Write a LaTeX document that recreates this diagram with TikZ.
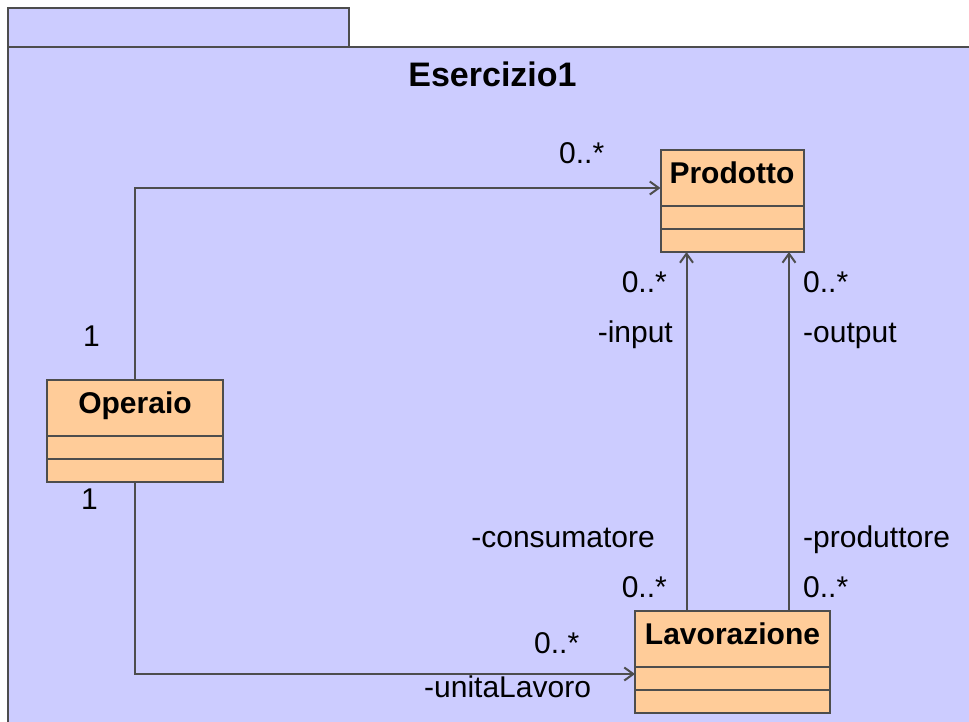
\documentclass[tikz,border=0pt]{standalone}
\usepackage{fontspec}
\setmainfont{Liberation Sans}
\usetikzlibrary{arrows.meta}
\definecolor{pkgfill}{HTML}{CCCCFF}
\definecolor{classfill}{HTML}{FFCC99}
\definecolor{linegray}{HTML}{4D4D4D}
\tikzstyle{package}=[draw=linegray,fill=pkgfill,line width=2pt]
\tikzstyle{umlclass}=[rectangle,draw=linegray,fill=classfill,line width=2pt,minimum height=102pt,inner sep=0pt,outer sep=0pt]
\tikzstyle{classname}=[font=\fontsize{30}{36}\selectfont\bfseries,inner sep=0pt,anchor=base]
\tikzstyle{compline}=[draw=linegray,line width=2pt]
\tikzstyle{assoc}=[draw=linegray,line width=2pt,-{Straight Barb[length=9pt,width=13pt]}]
\tikzstyle{lbl}=[font=\fontsize{30}{36}\selectfont,inner sep=0pt]

\begin{document}
\begin{tikzpicture}[x=1pt,y=-1pt]
    \clip (0,0) rectangle (969,721);
    % The package with its tab
    \path[package] (8,8) rectangle (349,47);
    \path[package] (8,47) rectangle (990,740);
    \node[classname,font=\fontsize{34}{40}\selectfont\bfseries] (title) at (492.5,86) {Esercizio1};
    % First we draw the classes
    \foreach \pos/\w/\name/\text in {{(732,201)/143/prodotto/Prodotto}, {(135,431)/176/operaio/Operaio}, {(732.5,662)/195/lavorazione/Lavorazione}}
    {
        \node[umlclass,minimum width=\w] (\name) at \pos {};
        \node[classname] (\name-title) at ([yshift=-33pt]\name.north) {\text};
        \draw[compline] ([yshift=-56pt]\name.north west) -- ([yshift=-56pt]\name.north east);
        \draw[compline] ([yshift=-79pt]\name.north west) -- ([yshift=-79pt]\name.north east);
    }
    % Then the associations
    \coordinate (inx) at (686.5,0);
    \coordinate (outx) at (789,0);
    \draw[assoc] (operaio.north) |- ([yshift=13pt]prodotto.west);
    \draw[assoc] (operaio.south) |- ([yshift=-12pt]lavorazione.west);
    \draw[assoc] (lavorazione.north -| inx) -- (prodotto.south -| inx);
    \draw[assoc] (lavorazione.north -| outx) -- (prodotto.south -| outx);
    % Role names and multiplicities
    \foreach \pos/\anc/\name/\text in {{(559,163)/base west/m1/0..*}, {(83,346)/base west/m2/1},
        {(81,509)/base west/m3/1}, {(667,292)/base east/m4/0..*}, {(673,342)/base east/r1/-input},
        {(803,292)/base west/m5/0..*}, {(803,342)/base west/r2/-output},
        {(655,547)/base east/r3/-consumatore}, {(667,597)/base east/m6/0..*},
        {(803,547)/base west/r4/-produttore}, {(803,597)/base west/m7/0..*},
        {(534,653)/base west/m8/0..*}, {(424,697)/base west/r5/-unitaLavoro}}
        \node[lbl,anchor=\anc] (\name) at \pos {\text};
\end{tikzpicture}
\end{document}
